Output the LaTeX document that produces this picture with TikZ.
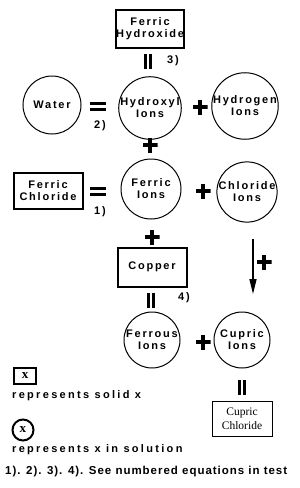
\documentclass[tikz,border=0pt]{standalone}
\usepackage{fontspec}
\usetikzlibrary{arrows.meta}
\newfontfamily\labfont{Liberation Sans}[LetterSpace=16]
\newfontfamily\legfont{Liberation Sans}[LetterSpace=21]
\newfontfamily\notefont{Liberation Sans}[LetterSpace=8.5]
\newfontfamily\serfont{Liberation Serif}
\tikzset{
  lab/.style={font=\labfont\bfseries\fontsize{11}{12}\selectfont, align=center, inner sep=0pt},
  legtext/.style={font=\legfont\bfseries\fontsize{11}{12}\selectfont, inner sep=0pt, anchor=west},
  notetext/.style={font=\notefont\bfseries\fontsize{11.5}{12}\selectfont, inner sep=0pt, anchor=west},
  ion/.style={lab, circle, draw, line width=1pt, minimum size=#1},
  solid/.style={lab, draw, line width=#1, minimum width=68pt, minimum height=37pt},
  eqh/.style={minimum width=16pt, minimum height=9pt, inner sep=0pt,
    path picture={\fill (path picture bounding box.north west) rectangle ([yshift=-3pt]path picture bounding box.north east);
                  \fill (path picture bounding box.south west) rectangle ([yshift=3pt]path picture bounding box.south east);}},
  eqv/.style={minimum width=8pt, minimum height=15pt, inner sep=0pt,
    path picture={\fill (path picture bounding box.north west) rectangle ([xshift=3pt]path picture bounding box.south west);
                  \fill (path picture bounding box.north east) rectangle ([xshift=-3pt]path picture bounding box.south east);}},
  plus/.style={minimum size=15pt, inner sep=0pt,
    path picture={\fill ([yshift=-1.75pt]path picture bounding box.west) rectangle ([yshift=1.75pt]path picture bounding box.east);
                  \fill ([xshift=-1.75pt]path picture bounding box.south) rectangle ([xshift=1.75pt]path picture bounding box.north);}},
  num/.style={lab},
}
\begin{document}
\begin{tikzpicture}[x=1pt,y=-1pt]
\path[use as bounding box, fill=white] (0,0) rectangle (300,488);
% top
\node[solid=1.3pt, minimum width=68pt, minimum height=38pt] (fhyd) at (150,29) {Ferric\\Hydroxide};
\node[eqv] (eq3) at (148,61) {};
\node[num] (n3) at (173,61) {3)};
% row 1
\node[ion=58pt] (water) at (52,105) {Water};
\node[eqh] (eq2) at (98,106) {};
\node[num] (n2) at (100,126) {2)};
\node[ion=58pt] (hydroxyl) at (150,108) {Hydroxyl\\Ions};
\node[plus] (p1) at (200,107) {};
\node[ion=60pt] (hydrogen) at (245,106) {Hydrogen\\Ions};
\node[plus] (p2) at (150,145) {};
% row 2
\node[solid=2pt, minimum width=69pt, minimum height=36pt] (fchl) at (48,191) {Ferric\\Chloride};
\node[eqh] (eq1) at (98,191) {};
\node[num] (n1) at (100,212) {1)};
\node[ion=60pt] (ferric) at (151,189) {Ferric\\Ions};
\node[plus] (p3) at (203,191) {};
\node[ion=59pt] (chloride) at (247,192) {Chloride\\Ions};
\node[plus] (p4) at (152,237) {};
\node[solid=2pt, minimum width=69pt, minimum height=39pt] (copper) at (152,267) {Copper};
\coordinate (arrS) at (253,239);
\coordinate (arrE) at (253,294);
\draw[line width=1.5pt, -{Triangle[length=15pt,width=7pt]}] (arrS) -- (arrE);
\node[plus] (p5) at (264,262) {};
\node[eqv] (eq4) at (151,300) {};
\node[num] (n4) at (184,298) {4)};
% row 3
\node[ion=56pt] (ferrous) at (152,340) {Ferrous\\Ions};
\node[plus] (p6) at (203,342) {};
\node[ion=56pt] (cupric) at (242,340) {Cupric\\Ions};
\node[eqv] (eq5) at (242,387) {};
\node[draw, line width=1pt, minimum width=60pt, minimum height=35pt, align=center, inner sep=0pt,
  font=\serfont\fontsize{11.5}{14}\selectfont] (cchl) at (242,419) {Cupric\\Chloride};
% legend
\node[draw, line width=2pt, minimum width=22pt, minimum height=16pt, inner sep=0pt,
  font=\serfont\bfseries\fontsize{13}{12}\selectfont] (legbox) at (25,376) {x};
\node[legtext] (legt1) at (12,396) {represents solid x};
\node[circle, draw, line width=2pt, minimum size=21pt, inner sep=0pt,
  font=\serfont\bfseries\fontsize{13}{12}\selectfont] (legcirc) at (23,430) {x};
\node[legtext] (legt2) at (12,450) {represents x in solution};
\node[notetext] (note) at (5,472) {1). 2). 3). 4). See numbered equations in test};
\end{tikzpicture}
\end{document}
